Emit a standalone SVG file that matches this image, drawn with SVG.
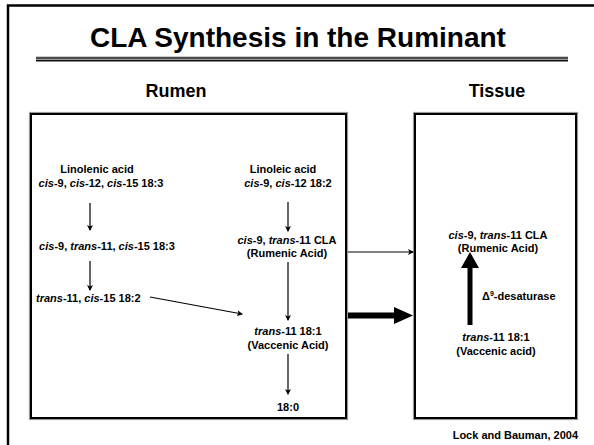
<svg xmlns="http://www.w3.org/2000/svg" width="594" height="445" viewBox="0 0 594 445">
<style>
text{font-family:"Liberation Sans",Arial,sans-serif;font-weight:bold;fill:#000}
.t{font-size:11px}
.c{text-anchor:middle}
.i{font-style:italic}
.thin{stroke:#000;stroke-width:1.2;fill:none}
</style>
<defs>
<marker id="ah" markerWidth="6" markerHeight="6" refX="5" refY="3" orient="auto" markerUnits="userSpaceOnUse"><path d="M0,0 L6,3 L0,6 L1.5,3 Z" fill="#000"/></marker>
</defs>
<rect width="594" height="445" fill="#fff"/>
<g id="frame">
<path d="M8,445 V5.5 H594" fill="none" stroke="#000" stroke-width="2.5"/>
</g>
<g id="title">
<text x="298" y="47" class="c" font-size="28">CLA Synthesis in the Ruminant</text>
<rect x="36" y="56.5" width="532" height="5.5" fill="#999"/>
<line x1="36" y1="58" x2="568" y2="58" stroke="#000" stroke-width="1"/>
<line x1="36" y1="60.6" x2="568" y2="60.6" stroke="#000" stroke-width="1"/>
<text x="176" y="97" class="c" font-size="18">Rumen</text>
<text x="497" y="97" class="c" font-size="18">Tissue</text>
</g>
<g id="rumen-box">
<rect x="29.5" y="112.5" width="318" height="307" fill="none" stroke="#999" stroke-width="1.2"/>
<rect x="31" y="114" width="315" height="304" fill="none" stroke="#000" stroke-width="2"/>
</g>
<g id="tissue-box">
<rect x="413.5" y="112.5" width="164" height="307" fill="none" stroke="#999" stroke-width="1.2"/>
<rect x="415" y="114" width="161" height="304" fill="none" stroke="#000" stroke-width="2"/>
</g>
<g id="linolenic">
<text x="97" y="173" class="t c">Linolenic acid</text>
<text x="101" y="187" class="t c"><tspan class="i">cis</tspan>-9, <tspan class="i">cis</tspan>-12, <tspan class="i">cis</tspan>-15 18:3</text>
</g>
<g id="c9t11c15">
<text x="107" y="250" class="t c"><tspan class="i">cis</tspan>-9, <tspan class="i">trans</tspan>-11, <tspan class="i">cis</tspan>-15 18:3</text>
</g>
<g id="t11c15">
<text x="36" y="302" class="t"><tspan class="i">trans</tspan>-11, <tspan class="i">cis</tspan>-15 18:2</text>
</g>
<g id="linoleic">
<text x="283" y="173" class="t c">Linoleic acid</text>
<text x="288" y="187" class="t c"><tspan class="i">cis</tspan>-9, <tspan class="i">cis</tspan>-12 18:2</text>
</g>
<g id="rumenic">
<text x="287" y="244" class="t c"><tspan class="i">cis</tspan>-9, <tspan class="i">trans</tspan>-11 CLA</text>
<text x="287" y="257" class="t c">(Rumenic Acid)</text>
</g>
<g id="vaccenic">
<text x="288" y="335" class="t c"><tspan class="i">trans</tspan>-11 18:1</text>
<text x="288" y="349" class="t c">(Vaccenic Acid)</text>
</g>
<g id="stearic">
<text x="288" y="411" class="t c">18:0</text>
</g>
<g id="tissue-rumenic">
<text x="498" y="239" class="t c"><tspan class="i">cis</tspan>-9, <tspan class="i">trans</tspan>-11 CLA</text>
<text x="498" y="252" class="t c">(Rumenic Acid)</text>
</g>
<g id="desaturase">
<text x="482" y="300" class="t">Δ<tspan font-size="7" dy="-4">9</tspan><tspan dy="4">-desaturase</tspan></text>
</g>
<g id="tissue-vaccenic">
<text x="496" y="341" class="t c"><tspan class="i">trans</tspan>-11 18:1</text>
<text x="496" y="355" class="t c">(Vaccenic acid)</text>
</g>
<g id="connectors">
<line x1="90" y1="203" x2="90" y2="230" class="thin" marker-end="url(#ah)"/>
<line x1="90" y1="261" x2="90" y2="290" class="thin" marker-end="url(#ah)"/>
<line x1="150" y1="297" x2="242" y2="314" class="thin" marker-end="url(#ah)"/>
<line x1="288" y1="202" x2="288" y2="231" class="thin" marker-end="url(#ah)"/>
<line x1="288" y1="262" x2="288" y2="320" class="thin" marker-end="url(#ah)"/>
<line x1="288" y1="354" x2="288" y2="394" class="thin" marker-end="url(#ah)"/>
<line x1="348" y1="252" x2="413" y2="252" class="thin" marker-end="url(#ah)"/>
<path d="M348,312.5 H394 V307 L413,315.5 L394,324 V318.5 H348 Z" fill="#000"/>
<path d="M467.5,325 V268 H461 L470,252 L479,268 H472.5 V325 Z" fill="#000"/>
</g>
<g id="credit">
<text x="578" y="439" font-size="11" text-anchor="end">Lock and Bauman, 2004</text>
</g>
</svg>
